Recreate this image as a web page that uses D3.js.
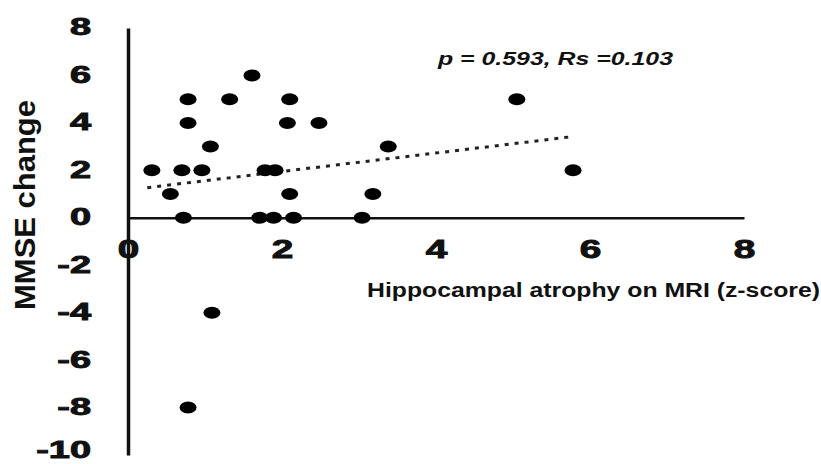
<!DOCTYPE html>
<html>
<head>
<meta charset="utf-8">
<script src="https://cdn.jsdelivr.net/npm/d3@7"></script>
<style>
  body { margin: 0; background: #fff; }
  svg { display: block; font-family: "Liberation Sans", Arial, sans-serif; }
</style>
</head>
<body>
<svg id="canvas"></svg>
<script>
// atrophy z-score vs MMSE change, one entry per patient
let atrophy = [0.31, 0.55, 0.70, 0.72, 0.78, 0.78, 0.78, 0.96, 1.07, 1.09, 1.32, 1.61, 1.71,
               1.78, 1.89, 1.91, 2.07, 2.10, 2.10, 2.15, 2.48, 3.04, 3.18, 3.38, 5.05, 5.78]
let mmseChange = [2, 1, 2, 0, 4, 5, -8, 2, 3, -4, 5, 6, 0,
                  2, 0, 2, 4, 5, 1, 0, 4, 0, 1, 3, 5, 2]

// ends of the fitted line
let trendX = [0.25, 5.77]
let trendY = [1.27, 3.42]

let xTicks = [0, 2, 4, 6, 8]
let yTicks = [8, 6, 4, 2, 0, -2, -4, -6, -8, -10]

let statsLabel = 'p = 0.593, Rs =0.103'
let xTitle = 'Hippocampal atrophy on MRI (z-score)'
let yTitle = 'MMSE change'

let width = 821
let height = 464

let svg = d3.select('#canvas').attr('width', width).attr('height', height)

let xScale = d3.scaleLinear().domain([0, 8]).range([128, 744])
let yScale = d3.scaleLinear().domain([-10, 8]).range([455, 28])

let ink = '#111'
// plain hyphen for negatives, like the original
let fmt = d => String(d)

let styleTicks = (sel, size) => {
    sel.attr('fill', ink)
       .attr('stroke', ink)
       .attr('stroke-width', 0.9)
       .style('font-size', size)
       .style('font-weight', 'bold')
       .style('font-family', '"Liberation Sans", Arial, sans-serif')
}

// y axis (vertical line at x = 0)
let yAxis = d3.axisLeft(yScale).tickValues(yTicks).tickFormat(fmt).tickSize(0).tickSizeOuter(0)
let yG = svg.append('g').attr('transform', 'translate(' + xScale(0) + ',0)').call(yAxis)
yG.select('.domain').attr('stroke', ink).attr('stroke-width', 3.5)
yG.selectAll('text')
  .attr('x', -22.4)
  .attr('dy', d => d === -10 ? '0.12em' : '0.3em')   // keep the last one inside the frame
  .attr('transform', 'scale(1.65,1)')
  .call(styleTicks, '23px')

// x axis sits on y = 0
let xAxis = d3.axisBottom(xScale).tickValues(xTicks).tickFormat(fmt).tickSize(0).tickSizeOuter(0)
let xG = svg.append('g').attr('transform', 'translate(0,' + yScale(0) + ')').call(xAxis)
xG.select('.domain').attr('stroke', ink).attr('stroke-width', 2.5)
xG.selectAll('text')
  .attr('y', 40)
  .attr('dy', 0)
  .attr('transform', 'scale(1.55,1)')
  .call(styleTicks, '25px')

// dotted regression line
svg.append('line')
  .attr('x1', xScale(trendX[0])).attr('y1', yScale(trendY[0]))
  .attr('x2', xScale(trendX[1])).attr('y2', yScale(trendY[1]))
  .attr('stroke', '#222')
  .attr('stroke-width', 3)
  .attr('stroke-dasharray', '4,6')

// points (drawn as flat ellipses like the original)
svg.append('g').selectAll('ellipse')
  .data(atrophy.map((d, i) => [d, mmseChange[i]]))
  .join('ellipse')
  .attr('cx', d => xScale(d[0]))
  .attr('cy', d => yScale(d[1]))
  .attr('rx', 8.5)
  .attr('ry', 6)
  .attr('fill', '#000')

// stats annotation
svg.append('text')
  .attr('x', 438).attr('y', 65)
  .attr('textLength', 235).attr('lengthAdjust', 'spacingAndGlyphs')
  .style('font-size', '19px').style('font-weight', 'bold').style('font-style', 'italic')
  .attr('fill', ink)
  .text(statsLabel)

// axis titles
svg.append('text')
  .attr('x', 367).attr('y', 297)
  .attr('textLength', 453).attr('lengthAdjust', 'spacingAndGlyphs')
  .style('font-size', '20px').style('font-weight', 'bold')
  .attr('fill', ink)
  .text(xTitle)

svg.append('text')
  .attr('transform', 'translate(35,205) rotate(-90)')
  .attr('text-anchor', 'middle')
  .attr('textLength', 210).attr('lengthAdjust', 'spacingAndGlyphs')
  .style('font-size', '29px').style('font-weight', 'bold')
  .attr('fill', ink)
  .text(yTitle)
</script>
</body>
</html>
